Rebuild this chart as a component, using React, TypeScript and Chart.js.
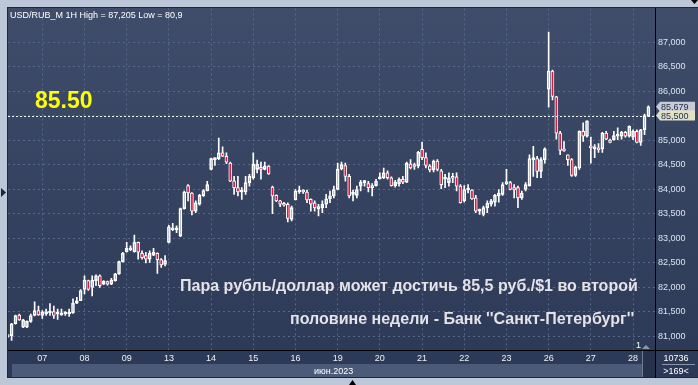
import React, { useEffect, useRef } from 'react';
import { Chart, registerables } from 'chart.js';

Chart.register(...registerables);

const W = 698;
const H = 385;

const DAYS = ['07', '08', '09', '13', '14', '15', '16', '19', '20', '21', '22', '23', '26', '27', '28'];
const Y_TICKS = [81, 81.5, 82, 82.5, 83, 83.5, 84, 84.5, 85, 85.5, 86, 86.5, 87];
const TITLE = 'USD/RUB_M 1H High = 87,205 Low = 80,9';
const MONTH_LABEL = 'июн.2023';
const CAPTION_1 = 'Пара рубль/доллар может достичь 85,5 руб./$1 во второй';
const CAPTION_2 = "половине недели - Банк ''Санкт-Петербург''";
const LEVEL = 85.5;
const LEVEL_TEXT = '85.50';
const LAST_PRICE = 85.679;
const BARS_TOTAL = '10736';
const BARS_VISIBLE = '>169<';

const OPEN = [
  81.0, 81.01, 81.25, 81.43, 81.18, 81.18, 81.3, 81.42, 81.52,
  81.42, 81.45, 81.47, 81.5, 81.45, 81.43, 81.45, 81.45, 81.47, 81.67, 81.72,
  81.95, 82.13, 81.99, 82.13, 82.23, 82.06, 82.11, 82.06, 82.13, 82.27, 82.52,
  82.72, 82.76, 82.72, 82.91, 82.69, 82.64, 82.57, 82.65, 82.69, 82.56, 82.46,
  82.91, 83.17, 83.17, 83.04, 83.6, 84.07, 83.92, 83.55, 83.69, 83.86, 83.96,
  84.4, 84.6, 84.62, 84.74, 84.67, 84.53, 84.17, 84.03, 83.94, 83.94, 84.13,
  84.23, 84.4, 84.41, 84.4, 84.47, 84.04, 83.87, 83.76, 83.71, 83.69, 83.38,
  83.78, 83.94, 83.95, 83.94, 83.79, 83.72, 83.6, 83.62, 83.69, 83.8, 83.86,
  83.99, 84.41, 84.48, 84.26, 83.89, 83.87, 84.06, 84.13, 84.11, 84.03, 84.07,
  84.21, 84.23, 84.33, 84.23, 84.07, 84.11, 84.2, 84.14, 84.51, 84.47, 84.47,
  84.81, 84.64, 84.47, 84.39, 84.57, 84.37, 84.2, 84.13, 84.23, 84.25, 84.06,
  83.76, 83.98, 83.98, 83.82, 83.55, 83.48, 83.62, 83.69, 83.73, 83.86, 83.89,
  84.11, 84.13, 84.03, 84.03, 83.82, 83.99, 84.07, 84.6, 84.62, 84.36, 84.6,
  86.04, 86.41, 85.88, 85.14, 84.8, 84.7, 84.6, 84.28, 84.43, 85.18, 85.08,
  84.87, 84.82, 84.84, 84.82, 85.14, 85.0, 85.01, 85.08, 85.08, 85.16, 85.08,
  85.06, 85.18, 84.95, 85.21, 85.48,
];
const HIGH = [
  81.02, 81.26, 81.43, 81.45, 81.34, 81.31, 81.45, 81.7, 81.61,
  81.52, 81.55, 81.66, 81.61, 81.55, 81.55, 81.5, 81.55, 81.76, 81.79, 81.95,
  82.23, 82.14, 82.23, 82.25, 82.25, 82.13, 82.12, 82.18, 82.28, 82.53, 82.71,
  82.91, 82.84, 83.06, 82.92, 82.74, 82.71, 82.74, 82.79, 82.7, 82.58, 82.64,
  83.26, 83.3, 83.25, 83.61, 83.96, 84.09, 83.93, 83.76, 83.89, 83.99, 84.16,
  84.63, 84.63, 85.04, 84.86, 84.74, 84.55, 84.26, 84.26, 84.03, 84.26, 84.3,
  84.74, 84.59, 84.55, 84.55, 84.48, 84.06, 83.88, 83.77, 83.73, 83.72, 83.65,
  83.99, 84.06, 83.99, 83.98, 83.8, 83.76, 83.69, 83.76, 83.89, 83.96, 84.06,
  84.53, 84.55, 84.53, 84.3, 83.98, 84.06, 84.18, 84.18, 84.16, 84.11, 84.2,
  84.33, 84.43, 84.37, 84.25, 84.18, 84.23, 84.26, 84.55, 84.6, 84.53, 84.77,
  84.96, 84.74, 84.5, 84.59, 84.6, 84.4, 84.3, 84.33, 84.32, 84.33, 84.09,
  84.07, 84.09, 83.99, 83.87, 83.59, 83.65, 83.76, 83.79, 83.89, 83.99, 84.13,
  84.4, 84.16, 84.09, 84.06, 83.96, 84.13, 84.7, 84.87, 84.67, 84.64, 84.84,
  87.205, 86.43, 85.89, 85.18, 84.97, 84.7, 84.62, 84.47, 85.19, 85.35, 85.39,
  85.06, 84.91, 84.93, 85.16, 85.18, 85.02, 85.18, 85.25, 85.18, 85.18, 85.29,
  85.21, 85.21, 85.22, 85.53, 85.7,
];
const LOW = [
  80.97, 80.91, 81.24, 81.32, 81.17, 81.17, 81.28, 81.41, 81.42,
  81.36, 81.42, 81.42, 81.36, 81.34, 81.42, 81.42, 81.4, 81.46, 81.66, 81.72,
  81.86, 81.93, 81.82, 82.03, 81.99, 82.05, 82.04, 82.05, 82.12, 82.26, 82.51,
  82.71, 82.74, 82.71, 82.57, 82.57, 82.49, 82.5, 82.64, 82.28, 82.4, 82.43,
  82.9, 83.15, 83.11, 83.03, 83.59, 83.76, 83.47, 83.52, 83.67, 83.85, 83.96,
  84.39, 84.48, 84.6, 84.66, 84.52, 84.15, 83.89, 83.86, 83.79, 83.89, 84.06,
  84.2, 84.33, 84.2, 84.39, 84.3, 83.5, 83.74, 83.64, 83.65, 83.33, 83.35,
  83.78, 83.91, 83.91, 83.72, 83.55, 83.55, 83.45, 83.52, 83.62, 83.72, 83.82,
  83.98, 84.39, 84.16, 83.82, 83.76, 83.82, 83.96, 84.06, 83.94, 83.86, 84.06,
  84.2, 84.21, 84.2, 84.06, 84.04, 84.06, 84.11, 84.13, 84.41, 84.4, 84.43,
  84.6, 84.43, 84.35, 84.35, 84.37, 84.01, 84.03, 84.06, 84.13, 83.96, 83.71,
  83.73, 83.92, 83.79, 83.52, 83.48, 83.45, 83.52, 83.65, 83.65, 83.73, 83.87,
  84.09, 83.98, 83.82, 83.62, 83.79, 83.96, 84.06, 84.26, 84.23, 84.23, 84.53,
  85.67, 85.82, 85.02, 84.7, 84.77, 84.48, 84.26, 84.26, 84.4, 84.97, 85.06,
  84.53, 84.64, 84.75, 84.75, 85.01, 84.94, 85.0, 85.01, 85.02, 85.06, 85.06,
  85.01, 84.94, 84.89, 85.11, 85.48,
];
const CLOSE = [
  80.99, 81.25, 81.42, 81.33, 81.33, 81.3, 81.42, 81.52, 81.43,
  81.49, 81.5, 81.49, 81.42, 81.46, 81.47, 81.47, 81.49, 81.67, 81.72, 81.93,
  82.14, 81.95, 82.14, 82.23, 82.03, 82.12, 82.06, 82.14, 82.27, 82.52, 82.69,
  82.79, 82.8, 82.91, 82.71, 82.6, 82.57, 82.69, 82.71, 82.56, 82.45, 82.54,
  83.23, 83.21, 83.2, 83.6, 83.94, 83.92, 83.55, 83.72, 83.87, 83.97, 84.09,
  84.62, 84.62, 84.74, 84.67, 84.55, 84.16, 84.03, 83.94, 83.96, 84.13, 84.26,
  84.51, 84.51, 84.4, 84.47, 84.31, 83.86, 83.76, 83.69, 83.67, 83.4, 83.62,
  83.96, 83.98, 83.94, 83.78, 83.69, 83.62, 83.64, 83.69, 83.8, 83.86, 83.99,
  84.41, 84.5, 84.26, 83.86, 83.91, 83.99, 84.14, 84.15, 84.03, 84.07, 84.16,
  84.23, 84.33, 84.23, 84.07, 84.14, 84.2, 84.14, 84.53, 84.43, 84.46, 84.75,
  84.64, 84.48, 84.39, 84.57, 84.4, 84.09, 84.23, 84.23, 84.22, 84.06, 83.72,
  83.99, 84.01, 83.8, 83.55, 83.56, 83.62, 83.71, 83.76, 83.87, 83.92, 84.09,
  84.15, 83.99, 83.98, 83.82, 83.92, 84.09, 84.62, 84.62, 84.36, 84.6, 84.82,
  86.41, 85.89, 85.14, 84.79, 84.78, 84.6, 84.28, 84.45, 85.18, 85.08, 85.39,
  84.84, 84.86, 84.8, 85.14, 85.02, 84.95, 85.09, 85.11, 85.16, 85.08, 85.28,
  85.18, 84.95, 85.21, 85.5, 85.679,
];

const FONT = "'Liberation Sans', Arial, sans-serif";

function fmtPrice(v: number) {
  return v.toFixed(3).replace('.', ',');
}

export default function App() {
  const ref = useRef<HTMLCanvasElement>(null);

  useEffect(() => {
    const canvas = ref.current;
    if (!canvas) return;
    const idx = OPEN.map((_, i) => i);
    const bodies = idx.map((i) => ({ x: i, y: [OPEN[i], CLOSE[i]] }));
    const upper = idx.map((i) => ({ x: i, y: [Math.max(OPEN[i], CLOSE[i]), HIGH[i]] }));
    const lower = idx.map((i) => ({ x: i, y: [LOW[i], Math.min(OPEN[i], CLOSE[i])] }));
    const bodyFill = idx.map((i) => (CLOSE[i] < OPEN[i] ? '#e3163f' : 'rgba(0,0,0,0)'));

    const firstDayIndex = 9;
    const barsPerDay = 11;
    const pxPerBar = 3.836;
    const xMin = firstDayIndex - (42.3 - 8) / pxPerBar;
    const xMax = firstDayIndex + (655 - 42.3) / pxPerBar;

    const decor = {
      id: 'decor',
      beforeDraw(chart: any) {
        const ctx = chart.ctx as CanvasRenderingContext2D;
        ctx.save();
        ctx.fillStyle = '#bcc7d7';
        ctx.fillRect(0, 0, W, H);
        const g = ctx.createLinearGradient(0, 8, 0, 378);
        g.addColorStop(0, '#3f4d6a');
        g.addColorStop(1, '#2b3856');
        ctx.fillStyle = g;
        ctx.fillRect(8, 8, W - 8, 370);
        ctx.fillStyle = '#1c2640';
        ctx.fillRect(7, 7, 1, 371);
        ctx.fillRect(7, 7, W - 7, 1);
        ctx.fillRect(7, 377, W - 7, 1);
        // date band
        ctx.fillStyle = '#4b5a78';
        ctx.fillRect(12, 364, 630, 13);
        // scroll box
        ctx.fillStyle = '#26314b';
        ctx.fillRect(642, 351, 13, 26);
        ctx.fillStyle = '#6f7b92';
        ctx.fillRect(642, 351, 1, 26);
        ctx.restore();
      },
      afterDraw(chart: any) {
        const ctx = chart.ctx as CanvasRenderingContext2D;
        const ys = chart.scales.y;
        ctx.save();
        // level line
        const yl = Math.round(ys.getPixelForValue(LEVEL)) + 0.5;
        ctx.strokeStyle = '#f4f4f4';
        ctx.lineWidth = 1;
        ctx.setLineDash([2, 2]);
        ctx.beginPath();
        ctx.moveTo(8, yl);
        ctx.lineTo(655, yl);
        ctx.stroke();
        ctx.setLineDash([]);
        // axis separators
        ctx.fillStyle = '#000';
        ctx.fillRect(655, 8, 1, 370);
        ctx.fillRect(8, 350, W - 8, 1);
        // title
        ctx.fillStyle = '#ffffff';
        ctx.font = `9px ${FONT}`;
        ctx.textBaseline = 'alphabetic';
        ctx.textAlign = 'left';
        ctx.fillText(TITLE, 10, 18);
        // level text
        ctx.fillStyle = '#ffff00';
        ctx.font = `bold 23px ${FONT}`;
        ctx.fillText(LEVEL_TEXT, 35, 108);
        // caption
        ctx.font = `bold 15px ${FONT}`;
        const w1 = ctx.measureText(CAPTION_1).width;
        const size = (15 * 458) / w1;
        ctx.font = `bold ${size.toFixed(2)}px ${FONT}`;
        ctx.fillStyle = '#e3e3e8';
        ctx.fillText(CAPTION_1, 180, 291);
        ctx.fillText(CAPTION_2, 290, 324);
        // month
        ctx.font = `9px ${FONT}`;
        ctx.fillStyle = '#ffffff';
        ctx.fillText(MONTH_LABEL, 314, 374);
        // "1" and small arrow
        ctx.fillText('1', 636, 348);
        ctx.fillStyle = '#8d97aa';
        ctx.beginPath();
        ctx.moveTo(642, 349);
        ctx.lineTo(646, 345);
        ctx.lineTo(650, 349);
        ctx.closePath();
        ctx.fill();
        // right bottom counters
        ctx.fillStyle = '#ffffff';
        ctx.textAlign = 'center';
        ctx.fillText(BARS_TOTAL, 676, 361);
        ctx.fillText(BARS_VISIBLE, 676, 374);
        ctx.fillStyle = '#8a95aa';
        ctx.fillRect(662, 364, 33, 1);
        // price labels
        const drawTag = (v: number, fill: string, text: string) => {
          const yc = ys.getPixelForValue(v);
          ctx.fillStyle = fill;
          ctx.strokeStyle = '#7d8496';
          ctx.beginPath();
          ctx.moveTo(656, yc);
          ctx.lineTo(660, yc - 5);
          ctx.lineTo(695, yc - 5);
          ctx.lineTo(695, yc + 5);
          ctx.lineTo(660, yc + 5);
          ctx.closePath();
          ctx.fill();
          ctx.fillStyle = '#1e2b4d';
          ctx.textAlign = 'left';
          ctx.textBaseline = 'middle';
          ctx.font = `9px ${FONT}`;
          ctx.fillText(text, 661, yc + 0.5);
        };
        drawTag(LAST_PRICE, '#c7cbd6', fmtPrice(LAST_PRICE));
        drawTag(LEVEL, '#e1e1c6', fmtPrice(LEVEL));
        // frame markers
        ctx.fillStyle = '#1b2540';
        ctx.beginPath();
        ctx.moveTo(1, 188);
        ctx.lineTo(6, 192.5);
        ctx.lineTo(1, 197);
        ctx.closePath();
        ctx.fill();
        ctx.fillStyle = '#000';
        ctx.beginPath();
        ctx.moveTo(349, 385);
        ctx.lineTo(352.5, 380);
        ctx.lineTo(356, 385);
        ctx.closePath();
        ctx.fill();
        ctx.beginPath();
        ctx.moveTo(691, 0);
        ctx.lineTo(698, 0);
        ctx.lineTo(694.5, 4);
        ctx.closePath();
        ctx.fill();
        ctx.restore();
      },
    };

    const chart = new Chart(canvas, {
      type: 'bar',
      data: {
        datasets: [
          {
            label: 'body',
            data: bodies as any,
            backgroundColor: bodyFill,
            borderColor: '#ffffff',
            borderWidth: 1,
            borderSkipped: false,
            maxBarThickness: 3,
            minBarLength: 2,
            order: 0,
          },
          {
            label: 'upper',
            data: upper as any,
            backgroundColor: '#ffffff',
            borderWidth: 0,
            maxBarThickness: 1,
            order: 1,
          },
          {
            label: 'lower',
            data: lower as any,
            backgroundColor: '#ffffff',
            borderWidth: 0,
            maxBarThickness: 1,
            order: 2,
          },
        ],
      },
      options: {
        responsive: false,
        animation: false,
        devicePixelRatio: 1,
        grouped: false,
        barPercentage: 1,
        categoryPercentage: 1,
        layout: { padding: { left: 8, top: 8, right: 0, bottom: 7 } },
        plugins: {
          legend: { display: false },
          tooltip: { enabled: false },
          title: { display: false },
        },
        scales: {
          x: {
            type: 'linear',
            min: xMin,
            max: xMax,
            offset: false,
            grid: { color: '#56678a', lineWidth: 1, drawTicks: false, offset: false },
            border: { display: false, dash: [2, 3] },
            afterBuildTicks: (scale: any) => {
              scale.ticks = DAYS.map((_, k) => ({ value: firstDayIndex + k * barsPerDay }));
            },
            afterFit: (scale: any) => {
              scale.height = 28;
            },
            ticks: {
              autoSkip: false,
              maxRotation: 0,
              padding: 3,
              color: '#eef2f8',
              font: { family: FONT, size: 9 },
              callback: (v: any) => DAYS[Math.round((Number(v) - firstDayIndex) / barsPerDay)] ?? '',
            },
          },
          y: {
            type: 'linear',
            position: 'right',
            min: 80.715,
            max: 87.687,
            grid: { color: '#56678a', lineWidth: 1, drawTicks: false },
            border: { display: false, dash: [2, 3] },
            afterBuildTicks: (scale: any) => {
              scale.ticks = Y_TICKS.map((v) => ({ value: v }));
            },
            afterFit: (scale: any) => {
              scale.width = 43;
            },
            ticks: {
              padding: 3,
              color: '#dce4f0',
              font: { family: FONT, size: 9 },
              callback: (v: any) => fmtPrice(Number(v)),
            },
          },
        },
      } as any,
      plugins: [decor],
    });

    return () => {
      chart.destroy();
    };
  }, []);

  return (
    <div style={{ position: 'fixed', left: 0, top: 0, width: W, height: H }}>
      <canvas ref={ref} width={W} height={H} style={{ display: 'block', width: W, height: H }} />
    </div>
  );
}
